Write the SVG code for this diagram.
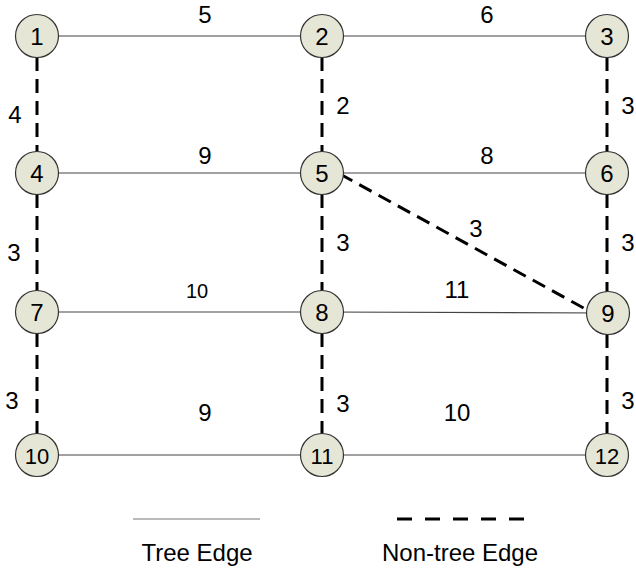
<svg xmlns="http://www.w3.org/2000/svg" width="636" height="572" viewBox="0 0 636 572">
<style>
.t{stroke:#444;stroke-width:1.2;fill:none}
.n{stroke:#000;stroke-width:3;stroke-dasharray:14 8;fill:none}
.c{fill:#e6e6d6;stroke:#333;stroke-width:1.2}
.nl{font-family:"Liberation Sans",Arial,sans-serif;font-size:24px;text-anchor:middle;fill:#000}
.el{font-family:"Liberation Sans",Arial,sans-serif;font-size:24px;text-anchor:middle;fill:#000}
</style>
<rect width="636" height="572" fill="#fff"/>
<g id="connectors">
<line class="t" x1="37" y1="36" x2="322" y2="36"/>
<line class="t" x1="322" y1="36" x2="607" y2="36"/>
<line class="t" x1="37" y1="173" x2="322" y2="173"/>
<line class="t" x1="322" y1="173" x2="607" y2="173"/>
<line class="t" x1="37" y1="312" x2="322" y2="312"/>
<line class="t" x1="322" y1="312" x2="607" y2="313"/>
<line class="t" x1="37" y1="455" x2="322" y2="455"/>
<line class="t" x1="322" y1="455" x2="607" y2="455"/>
<line class="n" x1="37" y1="57" x2="37" y2="152"/>
<line class="n" x1="37" y1="194" x2="37" y2="291"/>
<line class="n" x1="37" y1="333" x2="37" y2="434"/>
<line class="n" x1="322" y1="57" x2="322" y2="152"/>
<line class="n" x1="322" y1="194" x2="322" y2="291"/>
<line class="n" x1="322" y1="333" x2="322" y2="434"/>
<line class="n" x1="607" y1="57" x2="607" y2="152"/>
<line class="n" x1="607" y1="194" x2="607" y2="292"/>
<line class="n" x1="607" y1="334" x2="607" y2="434"/>
<line class="n" x1="340" y1="174" x2="589" y2="311"/>
<text class="el" x="205" y="23">5</text>
<text class="el" x="487" y="23">6</text>
<text class="el" x="15" y="123">4</text>
<text class="el" x="343" y="114">2</text>
<text class="el" x="628" y="114">3</text>
<text class="el" x="205" y="164">9</text>
<text class="el" x="487" y="164">8</text>
<text class="el" x="14" y="261">3</text>
<text class="el" x="343" y="251">3</text>
<text class="el" x="476" y="237">3</text>
<text class="el" x="628" y="251">3</text>
<text class="el" x="197" y="298" style="font-size:20px">10</text>
<text class="el" x="457" y="298">11</text>
<text class="el" x="12" y="409">3</text>
<text class="el" x="343" y="412">3</text>
<text class="el" x="628" y="409">3</text>
<text class="el" x="205" y="421">9</text>
<text class="el" x="457" y="421">10</text>
</g>
<g id="n1"><circle class="c" cx="37" cy="36" r="21.5"/><text class="nl" x="37" y="45">1</text></g>
<g id="n2"><circle class="c" cx="322" cy="36" r="21.5"/><text class="nl" x="322" y="45">2</text></g>
<g id="n3"><circle class="c" cx="607" cy="36" r="21.5"/><text class="nl" x="607" y="45">3</text></g>
<g id="n4"><circle class="c" cx="37" cy="173" r="21.5"/><text class="nl" x="37" y="182">4</text></g>
<g id="n5"><circle class="c" cx="322" cy="173" r="21.5"/><text class="nl" x="322" y="182">5</text></g>
<g id="n6"><circle class="c" cx="607" cy="173" r="21.5"/><text class="nl" x="607" y="182">6</text></g>
<g id="n7"><circle class="c" cx="37" cy="312" r="21.5"/><text class="nl" x="37" y="321">7</text></g>
<g id="n8"><circle class="c" cx="322" cy="312" r="21.5"/><text class="nl" x="322" y="321">8</text></g>
<g id="n9"><circle class="c" cx="608" cy="313" r="21.5"/><text class="nl" x="608" y="322">9</text></g>
<g id="n10"><circle class="c" cx="37" cy="455" r="21.5"/><text class="nl" x="37" y="464" style="font-size:22px">10</text></g>
<g id="n11"><circle class="c" cx="322" cy="455" r="21.5"/><text class="nl" x="322" y="464" style="font-size:22px">11</text></g>
<g id="n12"><circle class="c" cx="607" cy="455" r="21.5"/><text class="nl" x="607" y="464" style="font-size:22px">12</text></g>
<g id="legend">
<line x1="133" y1="519" x2="260" y2="519" stroke="#777" stroke-width="1.2"/>
<line x1="397" y1="519" x2="526" y2="519" stroke="#000" stroke-width="3" stroke-dasharray="15 13"/>
<text class="el" x="197" y="561">Tree Edge</text>
<text class="el" x="460" y="561">Non-tree Edge</text>
</g>
</svg>
